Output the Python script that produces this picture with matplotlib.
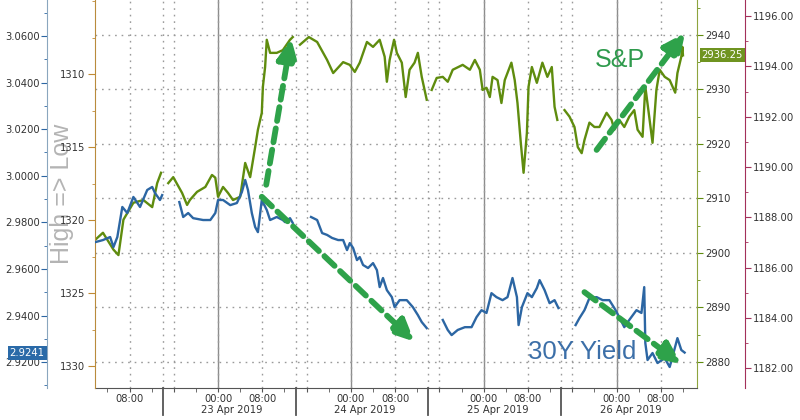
import numpy as np
import matplotlib
matplotlib.use("Agg")
import matplotlib.pyplot as plt
from matplotlib.ticker import MultipleLocator, FixedLocator, FuncFormatter, FormatStrFormatter

nan = np.nan

# hours relative to 23 Apr 2019 00:00, NaN = session break
spx_hours = [-22.2, -20.8, -18.9, -18.0, -17.1, -15.3, -13.5, -11.9, -11.0, -10.3, -9.6,
             -9.0, -8.1, -6.5, -5.6, -5.1, -3.8, -2.3, -1.1, -0.5, 0.0, 0.9, 1.8, 2.7,
             4.0, 4.9, 5.8, 6.7, 7.2, 7.9, 8.1, 8.5, 8.8, 9.4, 10.6, 11.7, 13.0, 13.5, 14.2,
             14.8, 16.4, 17.9, 19.7, 20.8, 22.6, 23.8, 24.7, 25.6, 26.9, 28.0, 29.2, 30.1,
             30.5, 31.0, 31.8, 32.3, 33.2, 33.9, 34.6, 35.5, 36.1, 36.8, 37.7, 38.1,
             38.6, 39.5, 40.6, 41.5, 42.4, 44.2, 45.5, 46.4, 47.3, 47.8, 48.5, 49.1, 49.6,
             50.5, 51.2, 51.8, 53.0, 53.6, 54.1, 54.7, 55.2, 55.8, 56.1, 56.7, 57.6, 58.6,
             59.5, 60.3, 60.8, 61.3, 62.0,
             62.6, 63.5, 64.4, 65.0, 65.7, 66.2, 67.1, 68.0, 68.9, 70.2, 71.1, 71.6, 72.5,
             73.4, 74.3, 75.2, 75.8, 76.7, 77.2, 77.9, 78.5, 79.2, 79.8, 80.7, 81.6, 82.6,
             83.0, 83.7, 83.9, 84.0]
spx_values = [2902.4, 2903.7, 2900.6, 2899.6, 2906.1, 2909.2, 2909.7, 2908.4, 2912.8, 2914.7, nan,
              2912.8, 2913.9, 2911.0, 2908.8, 2909.7, 2911.2, 2912.1, 2914.3, 2913.8, 2910.3,
              2912.1, 2911.0, 2909.7, 2910.3, 2916.5, 2913.9, 2919.4, 2922.6, 2925.7, 2930.5,
              2934.1, 2939.1, 2936.7, 2936.7, 2937.2, 2939.1, 2939.6, nan,
              2938.2, 2939.6, 2938.7, 2935.4, 2933.0, 2935.0, 2934.5, 2933.2, 2934.9, 2938.7,
              2937.8, 2939.1, 2936.0, 2931.4, 2935.4, 2939.1, 2936.7, 2934.9, 2928.6, 2933.6,
              2934.9, 2936.7, 2932.3, 2928.1, nan,
              2929.9, 2932.1, 2932.3, 2931.4, 2933.6, 2934.5, 2933.6, 2935.4, 2933.6, 2929.9,
              2930.3, 2928.6, 2932.3, 2931.7, 2927.5, 2931.7, 2934.9, 2931.7, 2927.5, 2920.2,
              2914.7, 2922.0, 2930.5, 2934.1, 2931.2, 2934.9, 2932.3, 2934.1, 2926.8, 2924.4, nan,
              2926.2, 2925.0, 2923.1, 2919.4, 2918.3, 2920.7, 2923.9, 2923.1, 2923.1, 2925.7,
              2924.4, 2922.6, 2924.4, 2923.1, 2925.0, 2926.2, 2922.6, 2921.3, 2930.5, 2925.0,
              2920.2, 2929.9, 2933.6, 2932.3, 2931.7, 2929.4, 2933.0, 2936.0, 2937.8, 2936.25]

yield_hours = [-22.2, -20.8, -19.5, -18.9, -18.2, -17.3, -16.4, -15.3, -14.1, -12.8, -11.9,
               -11.4, -10.5, -10.1, -8.5,
               -7.0, -6.3, -5.4, -4.5, -2.7, -1.4, -0.5, 0.0, 0.9, 2.2, 3.4, 4.3, 4.9, 5.4,
               6.1, 6.7, 7.2, 7.9, 8.8, 9.4, 10.6, 11.7, 12.1, 13.0, 13.5, 15.0,
               16.8, 17.9, 18.8, 19.7, 20.6, 21.7, 22.6, 23.3, 23.8, 24.4, 25.1, 25.6, 26.2,
               27.1, 28.0, 28.7, 29.2, 29.8, 30.5, 31.4, 31.9, 32.8, 34.1, 35.2, 36.1, 36.8,
               37.7, 39.0,
               40.6, 41.5, 42.2, 43.3, 44.6, 45.8, 46.7, 47.6, 48.5, 49.4, 50.3, 51.4, 52.3,
               53.2, 54.0, 54.3, 54.9, 55.4, 55.9, 56.7, 57.6, 58.1, 59.0, 59.9, 60.8, 61.5, 63.0,
               64.6, 65.3, 66.2, 67.1, 68.4, 69.5, 70.7, 71.6, 72.5, 73.4, 74.3, 75.6, 76.5,
               77.0, 77.2, 77.6, 78.5, 79.4, 80.7, 81.6, 82.1, 83.0, 83.7, 84.3]
yield_values = [2.9715, 2.9724, 2.9737, 2.9694, 2.9737, 2.9866, 2.9840, 2.9909, 2.9866, 2.9939,
                2.9952, 2.9926, 2.9896, 2.9917, nan,
                2.9887, 2.9823, 2.9840, 2.9818, 2.9810, 2.9810, 2.9840, 2.9896, 2.9896, 2.9874,
                2.9883, 2.9930, 2.9982, 2.9939, 2.9840, 2.9780, 2.9758, 2.9896, 2.9853, 2.9810,
                2.9823, 2.9810, 2.9801, 2.9818, 2.9797, nan,
                2.9823, 2.9810, 2.9754, 2.9746, 2.9733, 2.9724, 2.9724, 2.9681, 2.9711, 2.9690,
                2.9638, 2.9651, 2.9617, 2.9604, 2.9625, 2.9595, 2.9522, 2.9561, 2.9509, 2.9479,
                2.9436, 2.9466, 2.9466, 2.9436, 2.9402, 2.9372, 2.9346, nan,
                2.9381, 2.9338, 2.9316, 2.9338, 2.9350, 2.9350, 2.9393, 2.9423, 2.9411, 2.9496,
                2.9479, 2.9466, 2.9479, 2.9561, 2.9479, 2.9359, 2.9436, 2.9466, 2.9496, 2.9479,
                2.9518, 2.9552, 2.9509, 2.9453, 2.9466, 2.9432, nan,
                2.9359, 2.9389, 2.9423, 2.9475, 2.9479, 2.9466, 2.9466, 2.9432, 2.9393, 2.9350,
                2.9381, 2.9423, 2.9411, 2.9522, 2.9282, 2.9209, 2.9239, 2.9196, 2.9217, 2.9179,
                2.9222, 2.9303, 2.9252, 2.9241]

session_breaks = [-10, 14, 38, 62]
day_labels = ["23 Apr 2019", "24 Apr 2019", "25 Apr 2019", "26 Apr 2019"]
gold_ticks = [1310, 1315, 1320, 1325, 1330]

c_spx = "#5f8c0e"
c_yield = "#2c66a3"
c_gold = "#c08a34"
c_red = "#a3305a"
c_arrow = "#2ea24a"
c_grid = "#9a9a9a"

fig = plt.figure(figsize=(8, 4.2), dpi=100)
ax = fig.add_axes([0.119, 0.076, 0.752, 0.924])
ax_gold = ax.twinx()
ax_blue = ax.twinx()
ax_red = ax.twinx()

# S&P on the inner right axis
ax.plot(spx_hours, spx_values, color=c_spx, lw=1.7, zorder=3)
ax.set_xlim(-22.2, 86.5)
ax.set_ylim(2875.2, 2946.4)
ax.yaxis.tick_right()
ax.yaxis.set_major_locator(MultipleLocator(10))
ax.yaxis.set_minor_locator(MultipleLocator(5))
ax.yaxis.set_major_formatter(FormatStrFormatter("%d"))
ax.tick_params(axis="y", which="both", colors=c_spx, labelcolor="#333333", labelsize=7.2, pad=2)
ax.tick_params(axis="y", which="major", length=4)
ax.tick_params(axis="y", which="minor", length=2.5)
for s in ["top", "left"]:
    ax.spines[s].set_visible(False)
ax.spines["right"].set_color("#8ea43e")
ax.spines["bottom"].set_color("#555555")

# x axis: 4h ticks, labels at 00:00 and 08:00
ax.xaxis.set_major_locator(MultipleLocator(8))
ax.xaxis.set_minor_locator(MultipleLocator(4))
ax.xaxis.set_major_formatter(FuncFormatter(
    lambda h, pos: {0: "00:00", 8: "08:00"}.get(int(round(h)) % 24, "")))
ax.tick_params(axis="x", which="both", colors="#555555", labelcolor="#333333",
               labelsize=7.2, length=3, pad=1)

# grid
ax.grid(axis="y", color=c_grid, lw=1, linestyle=(0, (1.2, 3.5)), zorder=0)
ax.grid(axis="x", which="major", color=c_grid, lw=1, linestyle=(0, (1.2, 3.5)), zorder=0)
for b in session_breaks:
    ax.axvline(b, color=c_grid, lw=1, linestyle=(0, (1.2, 3.5)), zorder=0)
    ax.plot([b, b], [0, -0.07], transform=ax.get_xaxis_transform(), clip_on=False,
            color="#555555", lw=1.3)
for d in range(0, 80, 24):
    ax.axvline(d, color="#8c8c8c", lw=1, zorder=1)

bounds = session_breaks + [session_breaks[-1] + 24]
for lab, b0, b1 in zip(day_labels, bounds[:-1], bounds[1:]):
    ax.text((b0 + b1) / 2 + 0.5, -0.057, lab, transform=ax.get_xaxis_transform(),
            ha="center", va="center", fontsize=7.2, color="#333333")

# gold axis (inverted) on the inner left
ax_gold.set_ylim(1331.51, 1304.93)
ax_gold.yaxis.tick_left()
ax_gold.yaxis.set_major_locator(FixedLocator(gold_ticks))
ax_gold.yaxis.set_minor_locator(MultipleLocator(2.5))
ax_gold.tick_params(axis="y", which="both", colors=c_gold, labelcolor="#333333", labelsize=7.2, pad=2)
ax_gold.tick_params(axis="y", which="major", length=5)
ax_gold.tick_params(axis="y", which="minor", length=2.5)
for s in ["top", "right", "bottom"]:
    ax_gold.spines[s].set_visible(False)
ax_gold.spines["left"].set_color("#b98b3c")
ax_gold.text(-0.055, 0.5, "High => Low", transform=ax_gold.transAxes, rotation=90,
             ha="center", va="center", fontsize=18, color="#b4b4b4", family="Liberation Sans",
             zorder=0)

# yield on the outer left
ax_blue.plot(yield_hours, yield_values, color=c_yield, lw=1.7, zorder=4)
ax_blue.set_ylim(2.90885, 3.07546)
ax_blue.yaxis.tick_left()
ax_blue.spines["left"].set_position(("outward", 34.6))
ax_blue.spines["left"].set_visible(True)
ax_blue.spines["left"].set_color("#8aa6be")
for s in ["top", "right", "bottom"]:
    ax_blue.spines[s].set_visible(False)
ax_blue.yaxis.set_major_locator(MultipleLocator(0.02))
ax_blue.yaxis.set_minor_locator(MultipleLocator(0.01))
ax_blue.yaxis.set_major_formatter(FormatStrFormatter("%.4f"))
ax_blue.tick_params(axis="y", which="both", colors=c_yield, labelcolor="#333333", labelsize=7.2, pad=1)
ax_blue.tick_params(axis="y", which="major", length=4)
ax_blue.tick_params(axis="y", which="minor", length=2.5)

# red axis on the outer right
ax_red.set_ylim(1181.21, 1196.64)
ax_red.spines["right"].set_position(("outward", 34.6))
ax_red.spines["right"].set_color(c_red)
for s in ["top", "left", "bottom"]:
    ax_red.spines[s].set_visible(False)
ax_red.yaxis.set_major_locator(MultipleLocator(2))
ax_red.yaxis.set_minor_locator(MultipleLocator(1))
ax_red.yaxis.set_major_formatter(FormatStrFormatter("%.2f"))
ax_red.tick_params(axis="y", which="both", colors=c_red, labelcolor="#333333", labelsize=7.2, pad=2)
ax_red.tick_params(axis="y", which="major", length=4)
ax_red.tick_params(axis="y", which="minor", length=2.5)

# last value tags
ax.annotate(f"{spx_values[-1]:.2f}", xy=(1, spx_values[-1]), xycoords=("axes fraction", "data"),
            xytext=(3.5, 0), textcoords="offset points", ha="left", va="center",
            fontsize=7.2, color="white", annotation_clip=False, zorder=10,
            bbox=dict(boxstyle="square,pad=0.2", fc="#6f9420", ec="none"))
ax_red.annotate(f"{yield_values[-1]:.4f}", xy=(0, yield_values[-1]),
                xycoords=("axes fraction", ax_blue.transData),
                xytext=(-49, 0), textcoords="offset points", ha="center", va="center",
                fontsize=7.2, color="white", annotation_clip=False, zorder=10,
                bbox=dict(boxstyle="square,pad=0.2", fc="#2a6aa8", ec="none"))


def dashed_arrow(x0, y0, x1, y1):
    ax_red.annotate("", xy=(x1, y1), xytext=(x0, y0), xycoords=ax.transData,
                    textcoords=ax.transData, annotation_clip=False,
                    arrowprops=dict(arrowstyle="-|>,head_length=1.3,head_width=0.6",
                                    mutation_scale=10, color=c_arrow, lw=4.2,
                                    linestyle=(0, (2.4, 1.3)), shrinkA=0, shrinkB=0))


dashed_arrow(8.7, 2912.5, 13.2, 2939.4)
dashed_arrow(7.9, 2910.3, 35.5, 2883.7)
dashed_arrow(66.2, 2892.8, 83.7, 2879.6)
dashed_arrow(68.4, 2918.9, 84.4, 2940.4)

# labels placed in figure pixels (origin bottom-left)
ax_red.text(620, 420 - 60, "S&P", transform=None, fontsize=18, color="#2e9a4c",
            ha="center", va="center", family="Liberation Sans")
ax_red.text(582, 420 - 352, "30Y Yield", transform=None, fontsize=18.5, color="#3c6fa8",
            ha="center", va="center", family="Liberation Sans")

fig.savefig("out.png", dpi=100)
